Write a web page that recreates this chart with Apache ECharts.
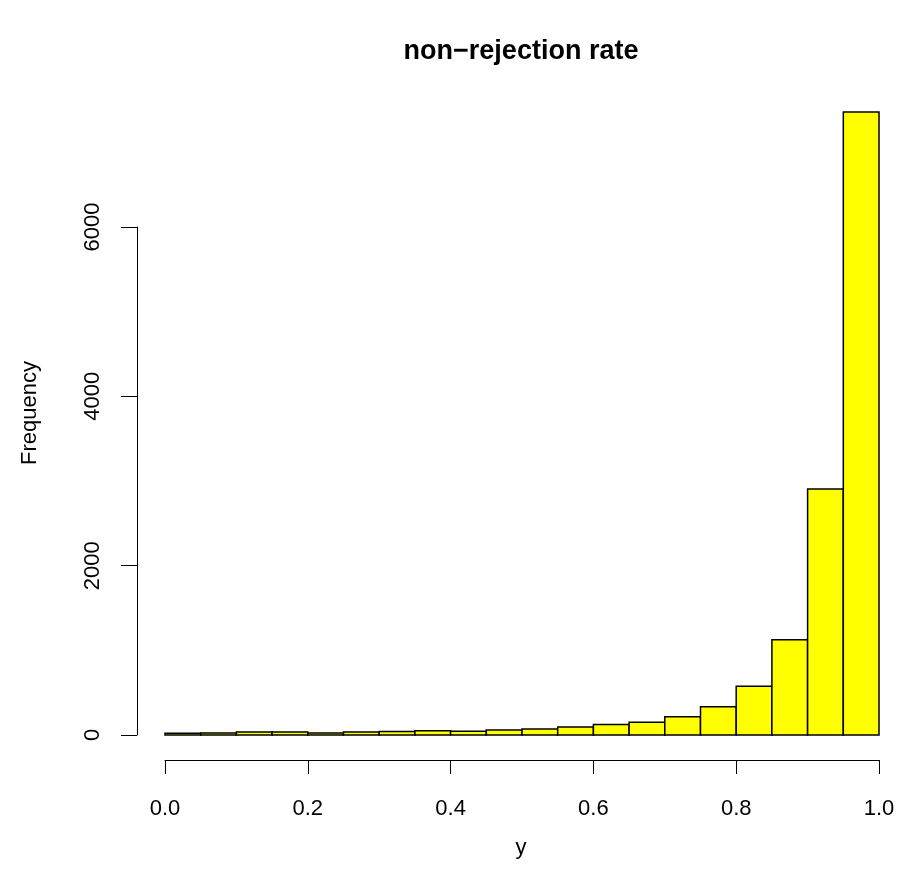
<!DOCTYPE html>
<html>
<head>
<meta charset="utf-8">
<script src="https://cdn.jsdelivr.net/npm/echarts@6/dist/echarts.min.js"></script>
<style>
  html, body { margin: 0; padding: 0; background: #fff; }
  #chart { width: 903px; height: 889px; }
</style>
</head>
<body>
<div id="chart"></div>
<script>
// histogram bins (edges) and counts
const breaks = [0, 0.05, 0.1, 0.15, 0.2, 0.25, 0.3, 0.35, 0.4, 0.45, 0.5,
                0.55, 0.6, 0.65, 0.7, 0.75, 0.8, 0.85, 0.9, 0.95, 1.0];
const counts = [20, 25, 35, 35, 25, 35, 40, 50, 45, 60,
                70, 95, 125, 150, 215, 335, 575, 1125, 2905, 7358];
const xTicks = [0, 0.2, 0.4, 0.6, 0.8, 1.0];
const yTicks = [0, 2000, 4000, 6000];

const title = "non\u2212rejection rate";
const xLabel = "y";
const yLabel = "Frequency";

const FONT = "Liberation Sans, Arial, Helvetica, sans-serif";

// [start, end, count] per bar
const bins = counts.map((c, i) => [breaks[i], breaks[i + 1], c]);

const chart = echarts.init(document.getElementById("chart"), null, { renderer: "canvas" });

chart.setOption({
  animation: false,
  backgroundColor: "#fff",
  textStyle: { fontFamily: FONT },
  grid: { left: 165, width: 714, top: 227, height: 508 },
  xAxis: {
    type: "value",
    min: xTicks[0],
    max: xTicks[xTicks.length - 1],
    interval: 0.2,
    offset: 25,
    axisLine: { show: true, onZero: false, lineStyle: { color: "#000", width: 1 } },
    axisTick: { show: true, inside: false, length: 14, lineStyle: { color: "#000", width: 1 } },
    axisLabel: {
      margin: 38, color: "#000", fontSize: 22, fontFamily: FONT,
      formatter: v => v.toFixed(1)
    },
    splitLine: { show: false }
  },
  yAxis: {
    type: "value",
    min: yTicks[0],
    max: yTicks[yTicks.length - 1],
    interval: 2000,
    offset: 28,
    axisLine: { show: true, onZero: false, lineStyle: { color: "#000", width: 1 } },
    axisTick: { show: true, inside: false, length: 16, lineStyle: { color: "#000", width: 1 } },
    axisLabel: {
      rotate: 90, margin: 33, color: "#000", fontSize: 22, fontFamily: FONT,
      formatter: v => String(v)
    },
    splitLine: { show: false }
  },
  series: [{
    type: "custom",
    clip: false,
    data: bins,
    encode: { x: [0, 1], y: 2 },
    renderItem: function (params, api) {
      const p0 = api.coord([api.value(0), 0]);
      const p1 = api.coord([api.value(1), api.value(2)]);
      return {
        type: "rect",
        shape: { x: p0[0], y: p1[1], width: p1[0] - p0[0], height: p0[1] - p1[1] },
        style: { fill: "#ffff00", stroke: "#000", lineWidth: 1.5 }
      };
    }
  }],
  graphic: [
    {
      type: "text", x: 521, y: 52,
      style: { text: title, font: "bold 27px " + FONT, fill: "#000", textAlign: "center", textVerticalAlign: "middle" }
    },
    {
      type: "text", x: 521, y: 848,
      style: { text: xLabel, font: "22px " + FONT, fill: "#000", textAlign: "center", textVerticalAlign: "middle" }
    },
    {
      type: "text", x: 30, y: 413, rotation: Math.PI / 2,
      style: { text: yLabel, font: "22px " + FONT, fill: "#000", textAlign: "center", textVerticalAlign: "middle" }
    }
  ]
});
</script>
</body>
</html>
